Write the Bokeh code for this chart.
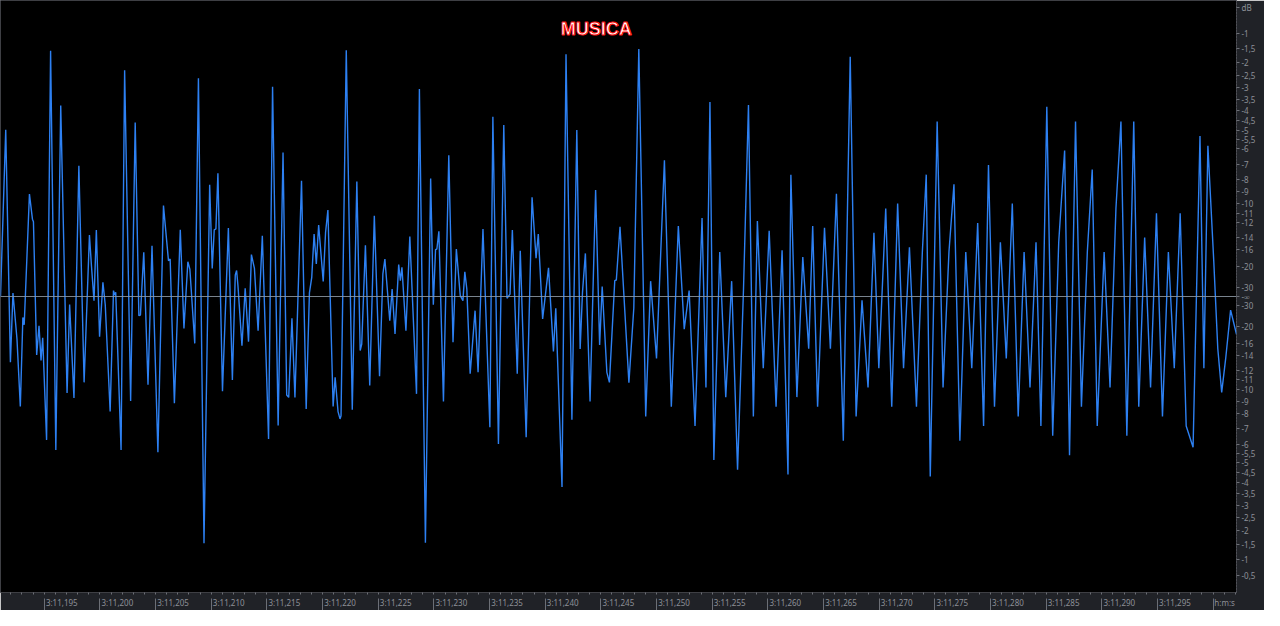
from bokeh.plotting import figure
from bokeh.models import FixedTicker, LinearAxis, Span, Label, Range1d
from bokeh.embed import file_html
from bokeh.resources import INLINE

# ---- waveform (time in ms after 3:11, linear amplitude) ----
t_ms = [191.07, 191.54, 191.96, 192.19, 192.55, 192.85, 193.08, 193.20, 193.67, 193.94,
        194.03, 194.32, 194.53, 194.71, 194.86, 195.21, 195.57, 196.04, 196.48, 197.05,
        197.28, 197.67, 198.11, 198.58, 199.06, 199.24, 199.47, 199.68, 199.97, 200.27,
        200.48, 200.92, 201.22, 201.31, 201.42, 201.90, 202.22, 202.76, 203.17, 203.50,
        203.64, 203.94, 204.32, 204.68, 205.21, 205.71, 206.16, 206.31, 206.69, 207.22,
        207.55, 207.90, 208.08, 208.52, 208.85, 209.35, 209.86, 210.09, 210.27, 210.42,
        210.60, 211.01, 211.54, 211.90, 212.16, 212.28, 212.40, 212.76, 213.05, 213.35,
        213.61, 213.88, 214.21, 214.59, 215.15, 215.51, 216.01, 216.45, 216.78, 216.96,
        217.25, 217.52, 218.11, 218.53, 218.82, 219.03, 219.24, 219.44, 219.65, 220.06,
        220.27, 220.48, 220.95, 221.13, 221.39, 221.57, 221.66, 222.13, 222.67, 223.08,
        223.38, 223.52, 223.85, 224.24, 224.65, 225.12, 225.42, 225.60, 226.04, 226.25,
        226.51, 226.84, 226.99, 227.13, 227.49, 227.84, 228.44, 228.70, 229.24, 229.71,
        229.95, 230.15, 230.27, 230.45, 230.86, 231.34, 231.72, 232.02, 232.37, 232.61,
        232.78, 232.96, 233.26, 233.70, 233.97, 234.41, 235.03, 235.30, 235.80, 236.28,
        236.57, 236.84, 237.05, 237.49, 237.76, 238.29, 238.82, 239.18, 239.38, 239.77,
        240.30, 240.74, 240.95, 241.51, 241.87, 242.40, 242.84, 243.14, 243.35, 243.61,
        244.03, 244.53, 244.89, 245.12, 245.54, 245.77, 246.25, 246.39,
        246.72, 247.52, 247.96, 248.41, 249.03, 249.47, 250.00, 250.71, 251.33, 251.96,
        252.49, 252.93, 253.46, 254.09, 254.44, 254.80, 255.15, 255.68, 256.22, 256.75,
        257.28, 257.81, 258.26, 258.70, 259.06, 259.59, 260.12, 260.74, 261.28, 261.81,
        262.07, 262.61, 263.14, 263.67, 264.03, 264.47, 265.09, 265.62, 266.16, 266.78,
        267.40, 267.93, 268.46, 269.00, 269.53, 269.97, 270.59, 271.13, 271.66, 272.19,
        272.72, 273.35, 273.88, 274.23, 274.59, 275.21, 275.74, 276.27, 276.72, 277.25,
        277.78, 278.32, 278.85, 279.38, 279.82, 280.36, 280.89, 281.42, 281.96, 282.49,
        283.02, 283.55, 284.09, 284.53, 285.06, 285.59, 286.13, 286.66, 287.10, 287.64,
        288.17, 288.70, 289.14, 289.59, 290.21, 290.74, 291.27, 291.72, 292.25, 292.87,
        293.32, 293.85, 294.38, 294.91, 295.45, 295.98, 296.51, 297.04, 297.58, 298.20,
        298.82, 299.17, 299.53, 300.06, 300.42, 300.77, 301.13, 301.57, 302.10]
amp = [0.000, 0.565, -0.223, 0.012, -0.144, -0.373, -0.071, -0.096, 0.347, 0.262,
       0.253, -0.198, -0.099, -0.217, -0.140, -0.486, 0.833, -0.520, 0.647, -0.327,
       -0.027, -0.344, 0.443, -0.291, 0.208, 0.104, -0.014, 0.225, -0.136, 0.048,
       -0.028, -0.390, 0.020, 0.005, 0.014, -0.520, 0.767, -0.354, 0.590, -0.065,
       -0.063, 0.150, -0.299, 0.172, -0.528, 0.308, 0.121, 0.127, -0.362, 0.226,
       -0.108, 0.118, 0.093, -0.159, 0.740, -0.836, 0.379, 0.095, 0.226, 0.229,
       0.418, -0.321, 0.232, -0.283, 0.073, 0.088, 0.037, -0.167, 0.028, -0.153,
       0.142, 0.095, -0.116, 0.206, -0.483, 0.711, -0.437, 0.488, -0.334, -0.342,
       -0.074, -0.342, 0.392, -0.381, 0.012, 0.065, 0.212, 0.110, 0.242, 0.051,
       0.217, 0.293, -0.373, -0.274, -0.390, -0.415, -0.404, 0.835, -0.384, 0.390,
       -0.183, -0.161, 0.174, -0.302, 0.274, -0.270, 0.077, 0.127, -0.082, 0.025,
       -0.127, 0.108, 0.054, 0.099, -0.116, 0.203, -0.330, 0.703, -0.835, 0.400,
       -0.028, 0.159, 0.161, 0.221, -0.356, 0.479, -0.155, 0.161, 0.003, -0.014,
       0.084, 0.025, -0.262, -0.048, -0.257, 0.229, -0.443, 0.609, -0.500, 0.581,
       -0.006, 0.008, 0.225, -0.262, 0.155, -0.477, 0.336, 0.130, 0.212, -0.076,
       0.097, -0.186, -0.040, -0.646, 0.821, -0.418, 0.564, -0.178, 0.014, 0.146,
       -0.356, 0.361, -0.164, 0.034, -0.257, -0.291, 0.054, 0.056,
       0.236, -0.292, -0.039, 0.839, -0.407, 0.052, -0.210, 0.462, -0.374, 0.239,
       -0.111, 0.020, -0.439, 0.266, -0.308, 0.659, -0.554, 0.151, -0.341, 0.052,
       -0.587, 0.020, 0.649, -0.407, 0.256, -0.243, 0.223, -0.374, 0.157, -0.603,
       0.413, -0.341, 0.134, -0.177, 0.239, -0.374, 0.233, -0.177, 0.348, -0.489,
       0.813, -0.407, -0.013, -0.308, 0.216, -0.243, 0.298, -0.374, 0.315, -0.243,
       0.167, -0.374, 0.151, 0.413, -0.610, 0.593, -0.308, 0.151, 0.380, -0.489,
       0.151, -0.243, 0.249, -0.439, 0.446, -0.374, 0.184, -0.210, 0.315, -0.407,
       0.151, -0.308, 0.184, -0.439, 0.643, -0.472, 0.184, 0.495, -0.538, 0.593,
       -0.374, 0.151, 0.430, -0.439, 0.151, -0.308, 0.298, 0.593, -0.472, 0.593,
       -0.374, 0.200, -0.308, 0.282, -0.407, 0.151, -0.243, 0.282, -0.439, -0.511,
       0.544, -0.243, 0.511, 0.118, -0.177, -0.325, -0.210, -0.046, -0.128]

# ---- axis tick values / labels ----
time_ticks = [195, 200, 205, 210, 215, 220, 225, 230, 235, 240, 245, 250,
              255, 260, 265, 270, 275, 280, 285, 290, 295, 300]
time_labels = ["3:11,%03d" % t for t in time_ticks[:-1]] + ["h:m:s"]
db_top = [-1, -1.5, -2, -2.5, -3, -3.5, -4, -4.5, -5, -5.5, -6, -7, -8, -9,
          -10, -11, -12, -14, -16, -20, -30]
db_bottom = [-0.5] + db_top
title_text = "MUSICA"

X0, X1 = 191.07, 302.1
YM = 1.0033

p = figure(width=1264, height=610, x_range=Range1d(X0, X1), y_range=Range1d(-YM, YM),
           output_backend="svg", toolbar_location=None,
           x_axis_location=None, y_axis_location=None,
           min_border_left=0, min_border_top=0, min_border_right=28, min_border_bottom=14,
           background_fill_color="black", border_fill_color="#202227",
           outline_line_color="#3e3f44")
for g in p.grid:
    g.visible = False

p.line(t_ms, amp, line_color="#2d80f2", line_width=1.4)

p.add_layout(Span(location=0, dimension="width", line_color="#8e9aa6",
                  line_width=1, line_alpha=0.85))

p.add_layout(Label(x=244.59, y=0.908, text=title_text, text_color="white",
                   text_outline_color="#ff1010", text_font="Liberation Sans",
                   text_font_size="18px", text_font_style="bold",
                   text_align="center", text_baseline="middle"))

# ---- right dB axis ----
ypos, ylab = [], {}
def fmt(d):
    return ("%g" % d).replace(".", ",")
for d in db_top:
    v = 10 ** (d / 20.0)
    ypos.append(v); ylab[v] = fmt(d)
for d in db_bottom:
    v = -(10 ** (d / 20.0))
    ypos.append(v); ylab[v] = fmt(d)
ypos.append(0.0); ylab[0.0] = "-\u221e"
ypos.append(0.978); ylab[0.978] = "dB"
yaxis = LinearAxis(ticker=FixedTicker(ticks=ypos, minor_ticks=[]),
                   major_label_overrides=ylab,
                   major_tick_out=3, major_tick_in=0, minor_tick_out=0, minor_tick_in=0,
                   major_label_standoff=2,
                   axis_line_color="#5c5f66", axis_line_dash="1 2",
                   major_tick_line_color="#6c6f76",
                   major_label_text_color="#8d9097",
                   major_label_text_font="Noto Sans",
                   major_label_text_font_size="8px")
p.add_layout(yaxis, "right")

# ---- bottom time axis: labels right of their tick lines ----
px_per_ms = 1236.0 / (X1 - X0)
label_pos, xlab = [], {}
for t, s in zip(time_ticks, time_labels):
    half = (17.5 if s != "h:m:s" else 11.5) / px_per_ms
    v = t + half
    label_pos.append(v); xlab[v] = s
ms_ticks = list(range(192, 303))
xlabels_axis = LinearAxis(ticker=FixedTicker(ticks=label_pos, minor_ticks=ms_ticks),
                          major_label_overrides=xlab,
                          major_tick_out=0, major_tick_in=0, major_tick_line_color=None,
                          minor_tick_out=2, minor_tick_in=0, minor_tick_line_color="#6c6f76",
                          major_label_standoff=2, axis_line_color=None,
                          major_label_text_color="#8d9097",
                          major_label_text_font="Noto Sans",
                          major_label_text_font_size="8px")
p.add_layout(xlabels_axis, "below")
xticks_axis = LinearAxis(ticker=FixedTicker(ticks=time_ticks, minor_ticks=[]),
                         major_label_overrides={t: "" for t in time_ticks},
                         major_tick_out=0, major_tick_in=12, major_tick_line_color="#6c6f76",
                         minor_tick_out=0, minor_tick_in=0,
                         major_label_text_font_size="1px", major_label_standoff=0,
                         axis_line_color=None)
p.add_layout(xticks_axis, "below")

open("out.html", "w").write(file_html(p, INLINE))
